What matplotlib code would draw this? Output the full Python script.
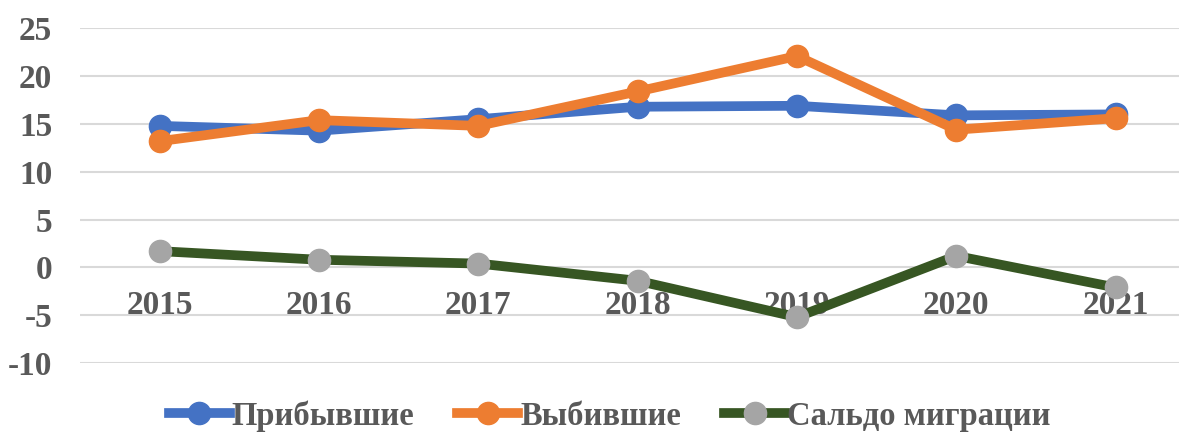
import matplotlib.pyplot as plt

# data
years = ['2015', '2016', '2017', '2018', '2019', '2020', '2021']
arrived = [14.8, 14.3, 15.5, 16.8, 16.9, 15.9, 16.0]
departed = [13.2, 15.4, 14.8, 18.4, 22.1, 14.4, 15.6]
saldo = [1.7, 0.8, 0.4, -1.4, -5.2, 1.2, -2.1]
yticks = [-10, -5, 0, 5, 10, 15, 20, 25]

txt_col = '#595959'
font = 'Liberation Serif'
fs = 24

fig = plt.figure(figsize=(11.82, 4.36), dpi=100)
ax = fig.add_axes([0.0677, 0.1674, 0.93, 0.7676])

x = list(range(len(years)))
ax.plot(x, arrived, color='#4472C4', lw=7, marker='o', ms=16,
        mfc='#4472C4', mec='#4472C4', label='Прибывшие', zorder=3)
ax.plot(x, departed, color='#ED7D31', lw=7, marker='o', ms=16,
        mfc='#ED7D31', mec='#ED7D31', label='Выбившие', zorder=4)
ax.plot(x, saldo, color='#375623', lw=7, marker='o', ms=16,
        mfc='#A5A5A5', mec='#A5A5A5', label='Сальдо миграции', zorder=3)

ax.set_xlim(-0.5, 6.4)
ax.set_ylim(-10, 25)
ax.set_yticks(yticks)
ax.set_yticklabels([str(v) for v in yticks], fontfamily=font,
                   fontweight='bold', fontsize=fs, color=txt_col)
ax.tick_params(axis='y', length=0, pad=20)
ax.set_xticks([])
ax.grid(axis='y', color='#D9D9D9', lw=1.5, zorder=0)
for s in ax.spines.values():
    s.set_visible(False)

# category labels sit under the zero line, like in Excel
for i, yr in enumerate(years):
    ax.text(i, -4.0, yr, ha='center', va='center', fontfamily=font,
            fontweight='bold', fontsize=fs, color=txt_col, zorder=2)

leg = fig.legend(loc='lower center', bbox_to_anchor=(0.5157, -0.058), ncol=3,
                 frameon=False, handlelength=1.87, handletextpad=0.05,
                 columnspacing=1.32,
                 prop={'family': font, 'weight': 'bold', 'size': 23.5})
for t in leg.get_texts():
    t.set_color(txt_col)

fig.savefig('out.png', dpi=100)
